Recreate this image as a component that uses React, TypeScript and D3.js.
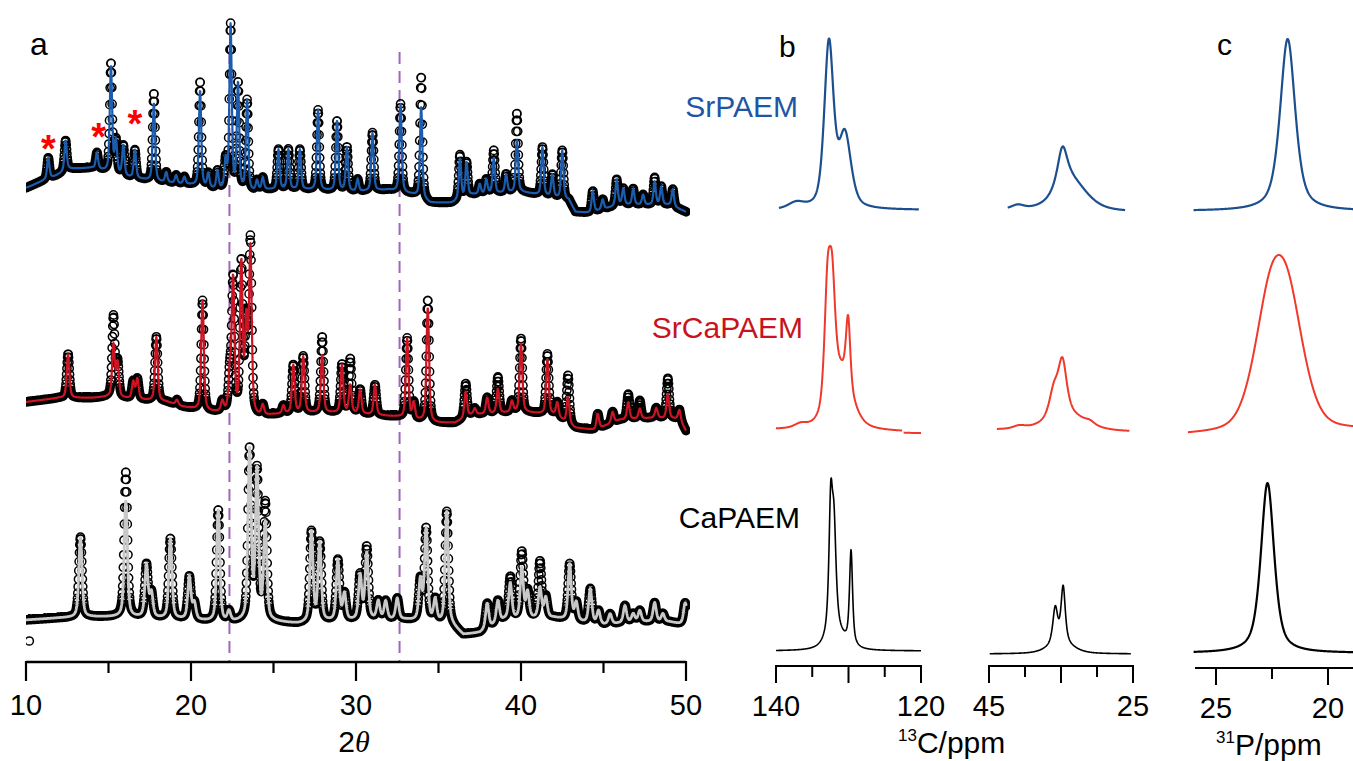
import React from "react";
import * as d3 from "d3";

const W = 1353;
const H = 761;
const FONT = "'Liberation Sans', Arial, sans-serif";

// ---------- panel a : XRD ----------
const xrdTicks = [10, 15, 20, 25, 30, 35, 40, 45, 50];
const xrdLabels = [10, 20, 30, 40, 50];
const guideLines = [22.33, 32.64];

// [2theta, height]
const srPeaks = [
  [11.35, 10.5], [12.4, 15], [14.3, 8], [15.15, 53], [15.45, 16], [15.9, 15], [16.6, 14],
  [17.75, 39], [18.5, 5], [19.1, 4], [19.6, 3.5], [20.55, 48], [21.05, 7], [21.6, 9], [22.1, 14],
  [22.4, 82], [22.85, 53], [23.4, 45], [24.0, 5], [24.35, 6], [25.3, 20], [25.9, 20], [26.6, 20],
  [27.7, 40], [28.85, 35], [29.45, 22], [30.1, 6], [31.0, 29], [32.7, 44], [33.95, 46], [36.3, 20],
  [36.7, 17], [37.5, 5], [37.9, 7], [38.35, 17.5], [39.1, 9], [39.75, 26], [41.3, 24], [41.9, 11],
  [42.5, 24], [44.35, 10.5], [44.95, 5], [45.8, 13], [46.2, 8], [46.8, 8], [47.4, 5], [48.1, 11.5],
  [48.5, 9], [49.2, 8.5],
];
const srObsExtra = [[15.15, 1.5], [17.75, 5], [20.55, 4.5], [33.95, 15], [39.75, 13.5], [38.35, 4], [36.3, 2], [48.1, 2]];
const srBgX = [10, 11, 11.8, 12.6, 14, 15, 16, 18, 20, 21.5, 23.8, 24.5, 27, 30, 32, 33.5, 34.5, 35.8, 37, 40, 42.9, 43.3, 44.2, 46, 49, 50];
const srBgY = [13.5, 17, 19.5, 23, 23.5, 21.5, 19, 16.5, 15, 12.5, 11.5, 12.5, 12.5, 11.5, 12.5, 10, 6, 6, 10, 11.5, 7.5, 1.5, 1, 5, 5, 1.5];

const srcaPeaks = [
  [12.55, 22], [15.3, 26], [15.55, 17], [16.5, 8.5], [16.75, 10], [17.9, 32], [19.15, 2.5], [20.7, 55],
  [21.9, 5], [22.35, 18], [22.55, 66], [23.05, 74], [23.35, 44], [23.6, 82], [24.35, 5], [25.6, 4],
  [26.2, 24], [26.8, 28], [27.95, 29], [29.15, 24], [29.65, 14], [30.25, 12], [31.15, 15], [33.1, 40],
  [33.5, 8], [34.35, 57], [36.65, 13], [37.2, 3], [37.95, 8], [38.6, 12], [39.45, 5.5], [40.0, 34],
  [41.6, 27], [42.2, 7], [42.85, 13], [44.65, 7.5], [45.55, 5.5], [46.5, 8.5], [47.2, 5], [48.2, 5],
  [48.9, 12], [49.6, 4.5],
];
const srcaObsExtra = [[15.3, 14], [27.95, 9], [29.65, 13], [34.35, 4], [36.65, 4], [38.6, 6], [40.0, 2.5], [41.6, 3], [42.85, 11], [46.5, 4], [47.2, 4], [48.9, 8], [23.6, 4]];
const srcaBgX = [10, 12, 14, 15, 17, 18.5, 19.5, 21, 22, 24, 25, 27, 29, 31, 32.5, 33.5, 34.8, 36, 37, 40, 42, 43.3, 44.5, 46, 48, 49.6, 50];
const srcaBgY = [16.5, 18.5, 18.5, 19, 17.5, 16.5, 14, 11.5, 11, 9, 10, 11, 11, 10, 9, 7.5, 6, 6, 10, 11.5, 10, 3.5, 2.5, 7.5, 8.5, 8, 2];

const caPeaks = [
  [13.3, 40], [16.05, 58], [17.3, 26], [17.6, 12], [18.75, 40], [19.9, 21], [20.2, 8], [21.65, 56],
  [22.3, 5], [23.55, 85], [24.0, 74], [24.5, 48], [27.3, 45], [27.8, 39], [28.9, 30], [29.3, 13],
  [30.25, 22], [30.65, 33], [31.35, 9], [31.8, 9], [32.5, 10.5], [33.9, 20], [34.25, 46], [34.8, 11],
  [35.5, 56], [37.95, 12.5], [38.6, 11], [39.35, 18], [40.05, 25], [40.4, 13], [41.15, 15], [41.5, 10],
  [42.95, 28], [43.35, 9], [44.2, 17], [44.7, 6.5], [45.4, 5], [46.3, 8.5], [46.8, 4], [47.2, 5.5],
  [48.1, 9.5], [48.6, 4], [49.95, 11],
];
const caObsExtra = [[16.05, 14.5], [24.5, 10], [40.05, 8], [41.15, 13], [39.35, 3], [30.65, 3]];
const caStray = [[10.2, -0.5]];
const caBgX = [10, 12, 14, 16, 20, 22, 23, 25, 26.5, 28, 31, 33, 35.8, 36.5, 37.5, 39, 42, 43.5, 45, 47, 49, 50];
const caBgY = [10, 11, 11.5, 11.5, 10, 8.5, 9, 9, 8, 9, 10, 10, 7.5, 2.5, 3.5, 10, 11, 9, 7.5, 9, 9, 7.5];

const starX = [11.35, 14.4, 16.6];
const starY = [37.5, 43.5, 50];

// ---------- panels b, c : NMR ----------
const c13aTicks = [140, 135, 130, 125, 120];
const c13aMajor = [140, 130, 120];
const c13aLabels = [140, 120];
const c13bTicks = [45, 40, 35, 30, 25];
const c13bMajor = [45, 35, 25];
const c13bLabels = [45, 25];
const p31Ticks = [25, 22.5, 20];
const p31Major = [25, 20];
const p31Labels = [25, 20];

// peaks: [ppm, height, fwhm, lorentz fraction]; base: [ppm, value]
const srC1Peaks = [[137.2, 3, 2.5, 0.3], [132.7, 82, 1.5, 0.5], [130.5, 36, 2.0, 0.5]];
const srC1Base = [[140, 1], [120, 1]];
const srC1Range = [[139.6, 120.3]];
const srC2Peaks = [[41.0, 2, 2, 0.5], [34.8, 22, 1.8, 0.9], [33.4, 13, 5, 0.5]];
const srC2Base = [[45, 1], [25, 0]];
const srC2Range = [[42.4, 26.1]];
const srPPeaks = [[21.8, 86, 0.8, 0.6]];
const srPBase = [[26, 0.5], [18.5, 0.5]];
const srPRange = [[26, 18.6]];

const srcaC1Peaks = [[136.6, 2, 2, 0.5], [132.9, 56, 1.0, 0.5], [132.25, 50, 1.0, 0.5], [131.0, 28, 3.4, 0.5], [130.05, 34, 0.7, 0.5]];
const srcaC1Base = [[140, 1], [122.6, 0], [122.4, -1], [120, -1]];
const srcaC1Range = [[140, 122.6], [122.4, 120]];
const srcaC2Peaks = [[40.8, 1.5, 2, 0.5], [36.0, 13, 1.5, 0.6], [34.8, 26, 1.4, 0.6], [34.2, 8, 6, 0.5], [31.0, 1.5, 1.5, 0.5]];
const srcaC2Base = [[45, 1], [25, 0]];
const srcaC2Range = [[43.9, 25.5]];
const srcaPPeaks = [[22.6, 55, 1.7, 0.3], [21.75, 52, 1.7, 0.3]];
const srcaPBase = [[26.3, -1.5], [18.5, 1]];
const srcaPRange = [[26.25, 18.88]];

const caC1Peaks = [[132.45, 62, 0.6, 0.8], [132.0, 50, 0.7, 0.8], [131.5, 6, 3, 0.5], [129.65, 47, 0.5, 0.7]];
const caC1Base = [[140, 1.5], [120, 1.5]];
const caC1Range = [[140, 120]];
const caC2Peaks = [[35.8, 18, 0.8, 0.7], [34.7, 28, 0.7, 0.7], [35.0, 5, 4, 0.5]];
const caC2Base = [[45, 0], [25, 0]];
const caC2Range = [[44.9, 25.3]];
const caPPeaks = [[22.7, 85, 0.7, 0.6]];
const caPBase = [[26, 0.5], [18.5, 0.5]];
const caPRange = [[26, 18.88]];

const pv = (x, c, h, w, eta) => {
  const t2 = 4 * ((x - c) / w) ** 2;
  return h * (eta / (1 + t2) + (1 - eta) * Math.exp(-Math.LN2 * t2));
};

const x = d3.scaleLinear().domain([10, 50]).range([26, 686]);
const nmrX = [
  d3.scaleLinear().domain([140, 120]).range([776, 921]),
  d3.scaleLinear().domain([45, 25]).range([989, 1133]),
  d3.scaleLinear().domain([26, 18.5]).range([1193.6, 1361.6]),
];

const patterns = [
  { peaks: srPeaks, extra: srObsExtra, stray: [], bgX: srBgX, bgY: srBgY, fwhm: 0.17, base: 215, color: "#1b5cae", lw: 2.2 },
  { peaks: srcaPeaks, extra: srcaObsExtra, stray: [], bgX: srcaBgX, bgY: srcaBgY, fwhm: 0.19, base: 435, color: "#cc1424", lw: 2.2 },
  { peaks: caPeaks, extra: caObsExtra, stray: caStray, bgX: caBgX, bgY: caBgY, fwhm: 0.23, base: 640, color: "#c8c8c8", lw: 2.8 },
];

const rows = [
  { base: 212, color: "#1c4f8e", lw: 2.2, segs: [
    { peaks: srC1Peaks, bl: srC1Base, ranges: srC1Range },
    { peaks: srC2Peaks, bl: srC2Base, ranges: srC2Range },
    { peaks: srPPeaks, bl: srPBase, ranges: srPRange },
  ] },
  { base: 432, color: "#f0392b", lw: 2, segs: [
    { peaks: srcaC1Peaks, bl: srcaC1Base, ranges: srcaC1Range },
    { peaks: srcaC2Peaks, bl: srcaC2Base, ranges: srcaC2Range },
    { peaks: srcaPPeaks, bl: srcaPBase, ranges: srcaPRange },
  ] },
  { base: 654, color: "#000", lw: 1.6, segs: [
    { peaks: caC1Peaks, bl: caC1Base, ranges: caC1Range },
    { peaks: caC2Peaks, bl: caC2Base, ranges: caC2Range },
    { peaks: caPPeaks, bl: caPBase, ranges: caPRange, lw: 2.2 },
  ] },
];

const rowLabels = [
  { text: "SrPAEM", color: "#1f55a5", x: 798, y: 117 },
  { text: "SrCaPAEM", color: "#c8141e", x: 803, y: 338 },
  { text: "CaPAEM", color: "#000", x: 800, y: 528 },
];

const nmrAxes = [
  { s: 0, y: 666, x0: 776, x1: 921, ticks: c13aTicks, major: c13aMajor, labels: c13aLabels },
  { s: 1, y: 666, x0: 989, x1: 1133, ticks: c13bTicks, major: c13bMajor, labels: c13bLabels },
  { s: 2, y: 668, x0: 1195, x1: 1353, ticks: p31Ticks, major: p31Major, labels: p31Labels },
];

export default function App() {
  const grid = d3.range(10, 50.0001, 0.02);
  const xrd = patterns.map((p) => {
    const bg = d3.scaleLinear().domain(p.bgX).range(p.bgY);
    const y = d3.scaleLinear().domain([0, 100]).range([p.base, p.base - 200]);
    const calcAt = (t) => bg(t) + d3.sum(p.peaks, (k) => pv(t, k[0], k[1], p.fwhm, 0.5));
    const calc = grid.map((t) => [t, calcAt(t)]);
    const obs = grid.map((t) => [t, calcAt(t) + d3.sum(p.extra, (k) => pv(t, k[0], k[1], p.fwhm, 0.5))]);
    const line = d3.line().x((d) => x(d[0])).y((d) => y(d[1]))(calc);
    const r = 4.1;
    const circ = d3.path();
    obs.concat(p.stray).forEach(([t, v]) => {
      const cx = x(t), cy = y(v);
      circ.moveTo(cx + r, cy);
      circ.arc(cx, cy, r, 0, 2 * Math.PI);
    });
    return { line, circles: circ.toString(), color: p.color, lw: p.lw, y };
  });
  const topY = xrd[0].y;

  const spectra = [];
  rows.forEach((row, ri) => {
    const y = d3.scaleLinear().domain([0, 100]).range([row.base, row.base - 200]);
    row.segs.forEach((seg, si) => {
      const sx = nmrX[si];
      const bl = d3.scaleLinear().domain(seg.bl.map((d) => d[0])).range(seg.bl.map((d) => d[1]));
      seg.ranges.forEach(([a, b], k) => {
        const n = Math.max(20, Math.round(Math.abs(sx(a) - sx(b)) * 3));
        const pts = d3.range(n + 1).map((i) => {
          const ppm = a + ((b - a) * i) / n;
          return [ppm, bl(ppm) + d3.sum(seg.peaks, (q) => pv(ppm, q[0], q[1], q[2], q[3]))];
        });
        const d = d3.line().x((p) => sx(p[0])).y((p) => y(p[1]))(pts);
        spectra.push(<path key={`${ri}-${si}-${k}`} d={d} fill="none" stroke={row.color} strokeWidth={seg.lw || row.lw} strokeLinejoin="round" />);
      });
    });
  });

  return (
    <svg width={W} height={H} style={{ position: "absolute", left: 0, top: 0, background: "#fff" }} fontFamily={FONT}>
      <defs>
        <clipPath id="xrdClip">
          <rect x={26} y={0} width={664} height={662} />
        </clipPath>
      </defs>

      {/* panel a */}
      <text x={30} y={55} fontSize={32}>a</text>
      {guideLines.map((g) => (
        <line key={g} x1={x(g)} x2={x(g)} y1={52} y2={662} stroke="#a066bb" strokeWidth={2} strokeDasharray="12,7" />
      ))}
      <g clipPath="url(#xrdClip)">
        {xrd.map((p, i) => (
          <g key={i}>
            <path d={p.circles} fill="none" stroke="#000" strokeWidth={1.5} />
            <path d={p.line} fill="none" stroke={p.color} strokeWidth={p.lw} strokeLinejoin="round" />
          </g>
        ))}
      </g>
      {starX.map((s, i) => (
        <text key={s} x={x(s)} y={topY(starY[i]) + 22} fontSize={38} fontWeight="bold" fill="#ff0000" textAnchor="middle">*</text>
      ))}
      <line x1={x(10)} x2={x(50)} y1={662} y2={662} stroke="#000" strokeWidth={2.5} />
      {xrdTicks.map((t) => (
        <line key={t} x1={x(t)} x2={x(t)} y1={661} y2={xrdLabels.includes(t) ? 681 : 673} stroke="#000" strokeWidth={2.2} />
      ))}
      {xrdLabels.map((t) => (
        <text key={t} x={x(t)} y={715} fontSize={29} textAnchor="middle">{t}</text>
      ))}
      <text x={354} y={752} fontSize={30} textAnchor="middle">
        2<tspan fontStyle="italic" fontFamily="'Liberation Serif', serif">θ</tspan>
      </text>

      {/* panels b, c */}
      <text x={779} y={57} fontSize={30}>b</text>
      <text x={1217} y={55} fontSize={30}>c</text>
      {rowLabels.map((l) => (
        <text key={l.text} x={l.x} y={l.y} fontSize={30} fill={l.color} textAnchor="end">{l.text}</text>
      ))}
      {spectra}
      {nmrAxes.map((a) => (
        <g key={a.s}>
          <line x1={a.x0} x2={a.x1} y1={a.y} y2={a.y} stroke="#000" strokeWidth={2.2} />
          {a.ticks.map((t) => (
            <line key={t} x1={nmrX[a.s](t)} x2={nmrX[a.s](t)} y1={a.y - 1} y2={a.y + (a.major.includes(t) ? 17 : 11)} stroke="#000" strokeWidth={2} />
          ))}
          {a.labels.map((t) => (
            <text key={t} x={nmrX[a.s](t)} y={a.y + 50} fontSize={29} textAnchor="middle">{t}</text>
          ))}
        </g>
      ))}
      <text x={898} y={753} fontSize={30}>
        <tspan fontSize={17} dy={-12}>13</tspan>
        <tspan dy={12}>C/ppm</tspan>
      </text>
      <text x={1216} y={755} fontSize={30}>
        <tspan fontSize={17} dy={-12}>31</tspan>
        <tspan dy={12}>P/ppm</tspan>
      </text>
    </svg>
  );
}
